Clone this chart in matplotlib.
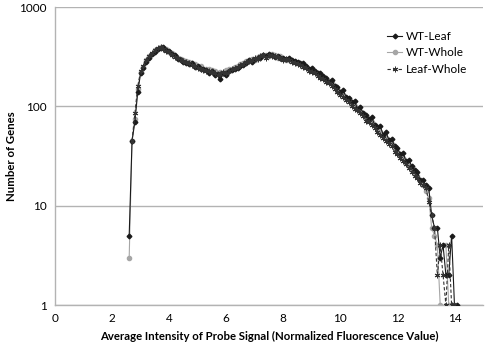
import numpy as np
import matplotlib
matplotlib.use("Agg")
import matplotlib.pyplot as plt

plt.rcParams['font.family'] = ['Lato', 'DejaVu Sans']

nan = np.nan
x = np.round(np.arange(2.6, 14.15, 0.1), 1)

wt_leaf = [5, 45, 70, 140, 215, 245, 280, 310, 335, 355,
           375, 385, 395, 370, 360, 335, 325, 300, 295, 280,
           275, 265, 270, 250, 255, 240, 235, 230, 215, 225,
           205, 210, 190, 215, 205, 225, 230, 240, 245, 255,
           260, 270, 295, 280, 300, 310, 305, 325, 320, 335,
           330, 315, 320, 305, 310, 300, 305, 290, 285, 280,
           270, 270, 255, 240, 245, 225, 215, 215, 200, 195,
           175, 185, 160, 155, 140, 145, 125, 120, 110, 112,
           95, 98, 85, 82, 75, 78, 65, 62, 63, 52,
           55, 46, 47, 40, 38, 33, 34, 28, 29, 25,
           23, 22, 18, 18, 16, 15, 8, 6, 6, 3,
           4, 2, 2, 5, 1, 1]

wt_whole = [3, 45, 75, 150, 220, 250, 290, 320, 340, 365,
            380, 400, 385, 375, 350, 345, 320, 310, 300, 295,
            285, 280, 270, 265, 250, 255, 240, 235, 240, 230,
            225, 215, 220, 210, 230, 235, 240, 250, 255, 265,
            270, 285, 290, 300, 295, 315, 320, 330, 325, 320,
            335, 325, 310, 320, 300, 295, 295, 285, 280, 270,
            265, 255, 250, 235, 230, 220, 210, 205, 195, 185,
            180, 170, 160, 150, 135, 130, 120, 115, 105, 100,
            95, 90, 85, 78, 72, 70, 65, 60, 55, 52,
            48, 45, 42, 38, 35, 32, 30, 27, 25, 23,
            21, 20, 18, 16, 14, 12, 6, 5, 4, 1,
            nan, 4, 1, nan, nan, nan]

leaf_whole = [nan, 45, 85, 160, 225, 255, 290, 320, 345, 370,
              385, 395, 380, 360, 350, 330, 315, 305, 290, 285,
              280, 270, 260, 255, 245, 240, 230, 225, 225, 220,
              215, 205, 210, 220, 215, 225, 235, 245, 250, 260,
              265, 280, 285, 295, 305, 300, 320, 330, 310, 325,
              320, 320, 315, 310, 295, 300, 290, 280, 275, 265,
              260, 250, 245, 225, 220, 215, 200, 195, 190, 175,
              170, 160, 150, 140, 130, 125, 115, 110, 100, 95,
              92, 85, 80, 72, 70, 65, 60, 55, 52, 48,
              45, 42, 40, 35, 33, 30, 28, 26, 24, 22,
              20, 19, 17, 16, 15, 11, 8, 6, 2, 4,
              2, 1, 4, 1, 1, nan]

fig = plt.figure(figsize=(4.87, 3.5), dpi=100)
ax = fig.add_axes([55/487, 45/350, 428/487, 298/350])

ax.plot(x, wt_leaf, color='#1a1a1a', lw=0.8, marker='D', ms=2.4, label='WT-Leaf', zorder=3)
ax.plot(x, wt_whole, color='#a6a6a6', lw=0.8, marker='o', ms=3.0, label='WT-Whole', zorder=2)
ax.plot(x, leaf_whole, color='#333333', lw=0.8, ls=(0, (3, 2)), marker=(6, 2, 0), ms=4,
        mew=0.7, label='Leaf-Whole', zorder=4)

ax.set_yscale('log')
ax.set_ylim(1, 1000)
ax.set_xlim(0, 15)
ax.set_xticks(range(0, 15, 2))
ax.set_yticks([1, 10, 100, 1000])
ax.set_yticklabels(['1', '10', '100', '1000'])
ax.minorticks_off()
ax.tick_params(length=0, labelsize=8.5, pad=6)
ax.yaxis.grid(True, color='#b3b3b3', lw=1)
ax.set_axisbelow(True)
for s in ['top', 'right']:
    ax.spines[s].set_visible(False)
for s in ['left', 'bottom']:
    ax.spines[s].set_color('#b3b3b3')
    ax.spines[s].set_linewidth(1)

ax.set_xlabel('Average Intensity of Probe Signal (Normalized Fluorescence Value)',
              fontsize=8.2, fontweight='bold', labelpad=5)
ax.set_ylabel('Number of Genes', fontsize=8.2, fontweight='bold')
ax.yaxis.set_label_coords(-0.088, 0.5)

ax.legend(loc='upper left', bbox_to_anchor=(0.765, 0.935), frameon=False, fontsize=8.5,
          handlelength=1.3, handletextpad=0.3, labelspacing=0.45, borderaxespad=0)

fig.savefig('out.png', dpi=100)
